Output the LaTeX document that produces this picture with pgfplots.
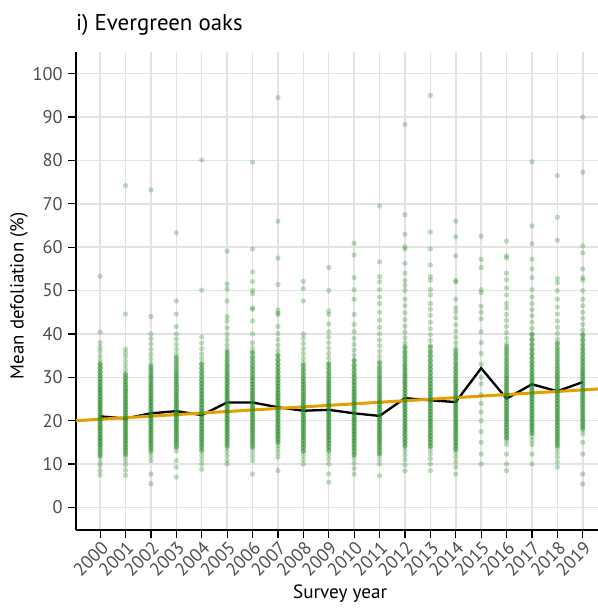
\documentclass[border=0pt]{standalone}
\usepackage{pgfplots}
\pgfplotsset{compat=1.18}
\usepackage{fontspec}
\setmainfont{PT Sans}
\definecolor{ptgreen}{HTML}{228B22}
\definecolor{fitorange}{HTML}{E69F00}
\definecolor{tickgray}{HTML}{4D4D4D}
\definecolor{gridgray}{HTML}{E3E3E3}
\begin{document}
\begin{tikzpicture}
\path[use as bounding box] (-45.6pt,-46.8pt) rectangle (313.2pt,318pt);
\begin{axis}[
    at={(0,0)}, anchor=south west,
    scale only axis,
    width=313.2pt, height=286.8pt,
    xmin=1999.05, xmax=2019.6,
    ymin=-5.2, ymax=105,
    axis x line*=bottom, axis y line*=left,
    axis line style={line width=1pt, -},
    xtick={2000,2001,...,2019},
    ytick={0,10,...,100},
    grid=major,
    major grid style={gridgray, line width=0.9pt},
    tick align=outside,
    major tick length=4.5pt,
    tick style={black, line width=0.7pt},
    /pgf/number format/assume math mode=true,
    /pgf/number format/set thousands separator={},
    tick label style={font=\fontsize{11}{13}\selectfont, text=tickgray},
    x tick label style={rotate=45, anchor=north east, inner sep=1pt},
    xlabel={Survey year},
    ylabel={Mean defoliation (\%)},
    every axis x label/.style={at={(axis description cs:0.506,-0.134)}, anchor=center, font=\fontsize{11.5}{14}\selectfont},
    every axis y label/.style={at={(axis description cs:-0.109,0.49)}, rotate=90, anchor=center, font=\fontsize{11.3}{14}\selectfont},
    title={i) Evergreen oaks},
    title style={at={(axis description cs:0,1)}, anchor=base west, yshift=7pt, xshift=-3.5pt, font=\fontsize{13.7}{16}\selectfont},
    clip=true,
]
\pgfplotsset{
  pts/.style={only marks, mark=*, mark size=1.6pt, mark options={draw=ptgreen, fill=ptgreen, draw opacity=0, fill opacity=0.3}},
  core/.style={only marks, mark=*, mark size=1.6pt, mark options={draw=ptgreen, fill=ptgreen, draw opacity=0, fill opacity=0.45}},
}
% plot means per year: full spread
\addplot[pts] coordinates {(2000,7.5)(2000,8.5)(2000,9.6)(2000,10.4)(2000,11.5)(2000,12.3)(2000,13.2)(2000,14.1)(2000,14.6)(2000,15.2)(2000,15.8)(2000,16.3)(2000,16.9)(2000,17.5)(2000,18.1)(2000,18.6)(2000,19.2)(2000,19.8)(2000,20.4)(2000,20.9)(2000,21.5)(2000,22.1)(2000,22.7)(2000,23.3)(2000,23.8)(2000,24.4)(2000,25.0)(2000,25.6)(2000,26.3)(2000,26.9)(2000,27.5)(2000,28.2)(2000,28.9)(2000,29.6)(2000,30.4)(2000,31.3)(2000,32.2)(2000,33.1)(2000,34.0)(2000,35.0)(2000,36.1)(2000,37.0)(2000,38.0)(2000,40.4)(2000,53.3)};
\addplot[pts] coordinates {(2001,7.4)(2001,8.6)(2001,9.8)(2001,10.7)(2001,11.6)(2001,12.5)(2001,13.3)(2001,14.0)(2001,14.7)(2001,15.3)(2001,15.9)(2001,16.5)(2001,17.1)(2001,17.7)(2001,18.3)(2001,18.9)(2001,19.5)(2001,20.1)(2001,20.7)(2001,21.3)(2001,21.9)(2001,22.5)(2001,23.1)(2001,23.7)(2001,24.3)(2001,24.9)(2001,25.5)(2001,26.2)(2001,26.9)(2001,27.6)(2001,28.3)(2001,29.1)(2001,29.9)(2001,30.8)(2001,31.7)(2001,32.7)(2001,33.7)(2001,34.8)(2001,35.7)(2001,36.5)(2001,44.6)(2001,74.2)};
\addplot[pts] coordinates {(2002,5.5)(2002,7.7)(2002,10.8)(2002,11.8)(2002,12.7)(2002,13.6)(2002,14.4)(2002,15.1)(2002,15.7)(2002,16.3)(2002,16.9)(2002,17.5)(2002,18.1)(2002,18.7)(2002,19.3)(2002,19.9)(2002,20.5)(2002,21.1)(2002,21.7)(2002,22.3)(2002,22.9)(2002,23.5)(2002,24.1)(2002,24.7)(2002,25.3)(2002,25.9)(2002,26.6)(2002,27.3)(2002,28.0)(2002,28.7)(2002,29.5)(2002,30.3)(2002,31.2)(2002,32.1)(2002,33.1)(2002,34.2)(2002,35.3)(2002,36.5)(2002,37.7)(2002,38.9)(2002,40.0)(2002,44.0)(2002,73.2)};
\addplot[pts] coordinates {(2003,7.0)(2003,9.3)(2003,10.8)(2003,13.0)(2003,13.9)(2003,14.6)(2003,15.3)(2003,15.9)(2003,16.5)(2003,17.1)(2003,17.7)(2003,18.3)(2003,18.9)(2003,19.5)(2003,20.1)(2003,20.7)(2003,21.3)(2003,21.9)(2003,22.5)(2003,23.1)(2003,23.7)(2003,24.3)(2003,24.9)(2003,25.5)(2003,26.1)(2003,26.8)(2003,27.5)(2003,28.2)(2003,28.9)(2003,29.7)(2003,30.5)(2003,31.4)(2003,32.3)(2003,33.3)(2003,34.3)(2003,35.4)(2003,36.5)(2003,37.6)(2003,38.8)(2003,40.0)(2003,41.7)(2003,44.6)(2003,47.6)(2003,63.3)};
\addplot[pts] coordinates {(2004,8.8)(2004,10.0)(2004,11.0)(2004,12.0)(2004,12.9)(2004,13.8)(2004,14.6)(2004,15.3)(2004,15.9)(2004,16.5)(2004,17.1)(2004,17.7)(2004,18.3)(2004,18.9)(2004,19.5)(2004,20.1)(2004,20.7)(2004,21.3)(2004,21.9)(2004,22.5)(2004,23.1)(2004,23.7)(2004,24.3)(2004,24.9)(2004,25.6)(2004,26.3)(2004,27.0)(2004,27.8)(2004,28.6)(2004,29.4)(2004,30.3)(2004,31.2)(2004,32.2)(2004,33.2)(2004,34.3)(2004,35.4)(2004,36.6)(2004,37.9)(2004,39.3)(2004,50.1)(2004,80.1)};
\addplot[pts] coordinates {(2005,10.0)(2005,10.8)(2005,11.9)(2005,12.9)(2005,13.8)(2005,14.6)(2005,15.4)(2005,16.1)(2005,16.8)(2005,17.5)(2005,18.1)(2005,18.7)(2005,19.3)(2005,19.9)(2005,20.5)(2005,21.1)(2005,21.7)(2005,22.3)(2005,22.9)(2005,23.5)(2005,24.1)(2005,24.7)(2005,25.3)(2005,25.9)(2005,26.5)(2005,27.1)(2005,27.8)(2005,28.5)(2005,29.2)(2005,29.9)(2005,30.7)(2005,31.5)(2005,32.4)(2005,33.3)(2005,34.3)(2005,35.3)(2005,36.4)(2005,37.5)(2005,38.7)(2005,39.9)(2005,41.4)(2005,43.0)(2005,44.0)(2005,47.6)(2005,50.3)(2005,51.5)(2005,59.1)};
\addplot[pts] coordinates {(2006,7.7)(2006,10.8)(2006,11.8)(2006,12.8)(2006,13.7)(2006,14.5)(2006,15.3)(2006,16.0)(2006,16.7)(2006,17.4)(2006,18.0)(2006,18.6)(2006,19.2)(2006,19.8)(2006,20.4)(2006,21.0)(2006,21.6)(2006,22.2)(2006,22.8)(2006,23.4)(2006,24.0)(2006,24.6)(2006,25.2)(2006,25.8)(2006,26.4)(2006,27.0)(2006,27.7)(2006,28.4)(2006,29.1)(2006,29.9)(2006,30.7)(2006,31.6)(2006,32.5)(2006,33.5)(2006,34.5)(2006,35.6)(2006,36.8)(2006,38.0)(2006,40.0)(2006,43.0)(2006,45.7)(2006,46.0)(2006,49.3)(2006,50.0)(2006,52.1)(2006,54.3)(2006,59.6)(2006,79.6)};
\addplot[pts] coordinates {(2007,8.5)(2007,11.6)(2007,12.6)(2007,13.5)(2007,14.3)(2007,15.0)(2007,15.7)(2007,16.3)(2007,16.9)(2007,17.5)(2007,18.1)(2007,18.7)(2007,19.3)(2007,19.9)(2007,20.5)(2007,21.1)(2007,21.7)(2007,22.3)(2007,22.9)(2007,23.5)(2007,24.1)(2007,24.7)(2007,25.3)(2007,25.9)(2007,26.5)(2007,27.2)(2007,27.9)(2007,28.6)(2007,29.4)(2007,30.2)(2007,31.1)(2007,32.0)(2007,33.0)(2007,34.0)(2007,35.1)(2007,36.2)(2007,37.4)(2007,38.7)(2007,40.1)(2007,41.7)(2007,44.5)(2007,44.8)(2007,45.5)(2007,51.4)(2007,57.5)(2007,66.0)(2007,94.5)};
\addplot[pts] coordinates {(2008,10.0)(2008,11.0)(2008,12.0)(2008,12.9)(2008,13.8)(2008,14.6)(2008,15.3)(2008,16.0)(2008,16.6)(2008,17.2)(2008,17.8)(2008,18.4)(2008,19.0)(2008,19.6)(2008,20.2)(2008,20.8)(2008,21.4)(2008,22.0)(2008,22.6)(2008,23.2)(2008,23.8)(2008,24.4)(2008,25.0)(2008,25.6)(2008,26.2)(2008,26.9)(2008,27.6)(2008,28.3)(2008,29.0)(2008,29.8)(2008,30.6)(2008,31.5)(2008,32.4)(2008,33.4)(2008,34.4)(2008,35.5)(2008,36.6)(2008,37.8)(2008,39.0)(2008,40.0)(2008,47.6)(2008,50.5)(2008,52.1)};
\addplot[pts] coordinates {(2009,5.8)(2009,7.7)(2009,10.0)(2009,11.1)(2009,12.1)(2009,13.0)(2009,13.9)(2009,14.7)(2009,15.4)(2009,16.1)(2009,16.7)(2009,17.3)(2009,17.9)(2009,18.5)(2009,19.1)(2009,19.7)(2009,20.3)(2009,20.9)(2009,21.5)(2009,22.1)(2009,22.7)(2009,23.3)(2009,23.9)(2009,24.5)(2009,25.1)(2009,25.8)(2009,26.5)(2009,27.2)(2009,27.9)(2009,28.7)(2009,29.5)(2009,30.4)(2009,31.3)(2009,32.3)(2009,33.3)(2009,34.4)(2009,35.5)(2009,36.7)(2009,38.0)(2009,39.3)(2009,40.5)(2009,42.3)(2009,44.5)(2009,45.3)(2009,50.0)(2009,55.3)};
\addplot[pts] coordinates {(2010,7.7)(2010,9.0)(2010,10.2)(2010,11.3)(2010,12.3)(2010,13.2)(2010,14.1)(2010,14.9)(2010,15.6)(2010,16.3)(2010,16.9)(2010,17.5)(2010,18.1)(2010,18.7)(2010,19.3)(2010,19.9)(2010,20.5)(2010,21.1)(2010,21.7)(2010,22.3)(2010,22.9)(2010,23.5)(2010,24.1)(2010,24.7)(2010,25.4)(2010,26.1)(2010,26.8)(2010,27.5)(2010,28.3)(2010,29.1)(2010,30.0)(2010,30.9)(2010,31.9)(2010,32.9)(2010,34.0)(2010,35.1)(2010,36.3)(2010,37.6)(2010,39.0)(2010,40.5)(2010,42.2)(2010,44.5)(2010,48.0)(2010,50.2)(2010,53.0)(2010,58.2)(2010,60.9)};
\addplot[pts] coordinates {(2011,7.3)(2011,10.0)(2011,11.0)(2011,12.0)(2011,12.9)(2011,13.7)(2011,14.5)(2011,15.2)(2011,15.9)(2011,16.5)(2011,17.1)(2011,17.7)(2011,18.3)(2011,18.9)(2011,19.5)(2011,20.1)(2011,20.7)(2011,21.3)(2011,21.9)(2011,22.5)(2011,23.1)(2011,23.7)(2011,24.3)(2011,25.0)(2011,25.7)(2011,26.4)(2011,27.2)(2011,28.0)(2011,28.8)(2011,29.7)(2011,30.6)(2011,31.6)(2011,32.6)(2011,33.7)(2011,34.8)(2011,36.0)(2011,37.3)(2011,38.6)(2011,40.0)(2011,41.5)(2011,43.2)(2011,45.0)(2011,47.0)(2011,48.5)(2011,50.2)(2011,52.0)(2011,53.2)(2011,56.6)(2011,69.5)};
\addplot[pts] coordinates {(2012,8.4)(2012,9.8)(2012,11.0)(2012,12.1)(2012,13.1)(2012,14.0)(2012,14.9)(2012,15.7)(2012,16.5)(2012,17.2)(2012,17.9)(2012,18.6)(2012,19.3)(2012,20.0)(2012,20.7)(2012,21.4)(2012,22.1)(2012,22.8)(2012,23.5)(2012,24.2)(2012,24.9)(2012,25.6)(2012,26.3)(2012,27.0)(2012,27.7)(2012,28.4)(2012,29.1)(2012,29.9)(2012,30.7)(2012,31.6)(2012,32.5)(2012,33.5)(2012,34.5)(2012,35.6)(2012,36.7)(2012,37.9)(2012,39.1)(2012,40.4)(2012,41.8)(2012,43.3)(2012,44.9)(2012,46.5)(2012,48.0)(2012,50.0)(2012,51.2)(2012,52.3)(2012,54.0)(2012,56.3)(2012,59.6)(2012,60.1)(2012,63.0)(2012,67.5)(2012,88.3)};
\addplot[pts] coordinates {(2013,8.5)(2013,10.0)(2013,11.2)(2013,12.3)(2013,13.3)(2013,14.2)(2013,15.0)(2013,15.8)(2013,16.5)(2013,17.2)(2013,17.9)(2013,18.6)(2013,19.3)(2013,20.0)(2013,20.7)(2013,21.4)(2013,22.1)(2013,22.8)(2013,23.5)(2013,24.2)(2013,24.9)(2013,25.6)(2013,26.3)(2013,27.0)(2013,27.7)(2013,28.5)(2013,29.3)(2013,30.1)(2013,31.0)(2013,31.9)(2013,32.9)(2013,33.9)(2013,35.0)(2013,36.1)(2013,37.3)(2013,38.5)(2013,39.8)(2013,41.2)(2013,42.7)(2013,44.3)(2013,45.7)(2013,47.0)(2013,49.0)(2013,50.2)(2013,52.4)(2013,53.2)(2013,55.9)(2013,59.6)(2013,63.5)(2013,95.0)};
\addplot[pts] coordinates {(2014,7.7)(2014,9.3)(2014,10.5)(2014,11.6)(2014,12.6)(2014,13.5)(2014,14.4)(2014,15.2)(2014,15.9)(2014,16.6)(2014,17.3)(2014,18.0)(2014,18.7)(2014,19.4)(2014,20.1)(2014,20.8)(2014,21.5)(2014,22.2)(2014,22.9)(2014,23.6)(2014,24.3)(2014,25.0)(2014,25.7)(2014,26.4)(2014,27.1)(2014,27.9)(2014,28.7)(2014,29.5)(2014,30.4)(2014,31.3)(2014,32.3)(2014,33.3)(2014,34.4)(2014,35.5)(2014,36.7)(2014,37.9)(2014,39.2)(2014,40.6)(2014,42.1)(2014,43.7)(2014,45.0)(2014,46.0)(2014,48.0)(2014,52.0)(2014,52.3)(2014,58.0)(2014,62.4)(2014,66.0)};
\addplot[pts] coordinates {(2015,10.0)(2015,12.3)(2015,15.0)(2015,17.5)(2015,20.0)(2015,22.0)(2015,24.0)(2015,26.0)(2015,28.5)(2015,30.0)(2015,33.0)(2015,35.5)(2015,38.0)(2015,40.5)(2015,43.5)(2015,45.0)(2015,46.4)(2015,49.5)(2015,50.2)(2015,55.3)(2015,57.2)(2015,62.5)};
\addplot[pts] coordinates {(2016,8.5)(2016,10.0)(2016,12.3)(2016,14.5)(2016,15.4)(2016,16.2)(2016,17.0)(2016,17.7)(2016,18.4)(2016,19.1)(2016,19.8)(2016,20.5)(2016,21.2)(2016,21.9)(2016,22.6)(2016,23.3)(2016,24.0)(2016,24.7)(2016,25.4)(2016,26.1)(2016,26.8)(2016,27.5)(2016,28.2)(2016,29.0)(2016,29.8)(2016,30.6)(2016,31.5)(2016,32.4)(2016,33.4)(2016,34.4)(2016,35.5)(2016,36.6)(2016,37.8)(2016,39.0)(2016,40.3)(2016,41.7)(2016,43.1)(2016,44.5)(2016,46.0)(2016,47.0)(2016,49.0)(2016,50.6)(2016,52.5)(2016,54.0)(2016,57.5)(2016,58.0)(2016,61.4)};
\addplot[pts] coordinates {(2017,10.0)(2017,12.3)(2017,14.5)(2017,15.4)(2017,16.3)(2017,17.1)(2017,17.9)(2017,18.6)(2017,19.3)(2017,20.0)(2017,20.7)(2017,21.4)(2017,22.1)(2017,22.8)(2017,23.5)(2017,24.2)(2017,24.9)(2017,25.6)(2017,26.3)(2017,27.0)(2017,27.7)(2017,28.4)(2017,29.1)(2017,29.9)(2017,30.7)(2017,31.5)(2017,32.4)(2017,33.3)(2017,34.3)(2017,35.3)(2017,36.4)(2017,37.5)(2017,38.7)(2017,40.0)(2017,41.3)(2017,42.7)(2017,44.2)(2017,45.6)(2017,47.0)(2017,48.5)(2017,50.2)(2017,53.0)(2017,55.0)(2017,57.2)(2017,60.8)(2017,64.9)(2017,79.7)};
\addplot[pts] coordinates {(2018,9.3)(2018,10.5)(2018,11.6)(2018,12.6)(2018,13.6)(2018,14.5)(2018,15.3)(2018,16.1)(2018,16.8)(2018,17.5)(2018,18.2)(2018,18.9)(2018,19.6)(2018,20.3)(2018,21.0)(2018,21.7)(2018,22.4)(2018,23.1)(2018,23.8)(2018,24.5)(2018,25.2)(2018,25.9)(2018,26.6)(2018,27.3)(2018,28.0)(2018,28.8)(2018,29.6)(2018,30.4)(2018,31.3)(2018,32.2)(2018,33.2)(2018,34.2)(2018,35.3)(2018,36.4)(2018,37.6)(2018,38.8)(2018,40.1)(2018,41.5)(2018,43.0)(2018,44.6)(2018,46.2)(2018,48.0)(2018,50.0)(2018,51.8)(2018,52.8)(2018,61.6)(2018,66.9)(2018,76.5)};
\addplot[pts] coordinates {(2019,5.4)(2019,7.7)(2019,12.3)(2019,15.0)(2019,17.0)(2019,17.9)(2019,18.8)(2019,19.6)(2019,20.4)(2019,21.2)(2019,22.0)(2019,22.8)(2019,23.6)(2019,24.4)(2019,25.2)(2019,26.0)(2019,26.8)(2019,27.6)(2019,28.4)(2019,29.2)(2019,30.0)(2019,30.8)(2019,31.6)(2019,32.5)(2019,33.4)(2019,34.3)(2019,35.3)(2019,36.3)(2019,37.4)(2019,38.5)(2019,39.7)(2019,40.9)(2019,42.2)(2019,43.6)(2019,45.0)(2019,46.5)(2019,48.0)(2019,50.0)(2019,52.4)(2019,53.0)(2019,55.0)(2019,58.7)(2019,60.3)(2019,77.3)(2019,90.0)};
% plot means per year: the crowded middle of each column
\addplot[core] coordinates {(2000,12.0)(2000,12.8)(2000,13.6)(2000,14.4)(2000,15.2)(2000,16.0)(2000,16.8)(2000,17.6)(2000,18.4)(2000,19.2)(2000,20.0)(2000,20.8)(2000,21.6)(2000,22.4)(2000,23.2)(2000,24.0)(2000,24.8)(2000,25.6)(2000,26.4)(2000,27.2)(2000,28.0)(2000,28.8)(2000,29.6)(2000,30.4)(2000,31.2)(2000,32.1)(2000,33.0)};
\addplot[core] coordinates {(2001,12.2)(2001,13.0)(2001,13.8)(2001,14.6)(2001,15.4)(2001,16.2)(2001,17.0)(2001,17.8)(2001,18.6)(2001,19.4)(2001,20.2)(2001,21.0)(2001,21.8)(2001,22.6)(2001,23.4)(2001,24.2)(2001,25.0)(2001,25.8)(2001,26.6)(2001,27.4)(2001,28.2)(2001,29.0)(2001,29.8)(2001,30.6)};
\addplot[core] coordinates {(2002,13.1)(2002,13.9)(2002,14.7)(2002,15.5)(2002,16.3)(2002,17.1)(2002,17.9)(2002,18.7)(2002,19.5)(2002,20.3)(2002,21.1)(2002,21.9)(2002,22.7)(2002,23.5)(2002,24.3)(2002,25.1)(2002,25.9)(2002,26.7)(2002,27.5)(2002,28.3)(2002,29.1)(2002,29.9)(2002,30.7)(2002,31.6)(2002,32.5)};
\addplot[core] coordinates {(2003,14.0)(2003,14.8)(2003,15.6)(2003,16.4)(2003,17.2)(2003,18.0)(2003,18.8)(2003,19.6)(2003,20.4)(2003,21.2)(2003,22.0)(2003,22.8)(2003,23.6)(2003,24.4)(2003,25.2)(2003,26.0)(2003,26.8)(2003,27.6)(2003,28.4)(2003,29.2)(2003,30.0)(2003,30.8)(2003,31.7)(2003,32.6)(2003,33.6)(2003,34.6)};
\addplot[core] coordinates {(2004,13.3)(2004,14.1)(2004,14.9)(2004,15.7)(2004,16.5)(2004,17.3)(2004,18.1)(2004,18.9)(2004,19.7)(2004,20.5)(2004,21.3)(2004,22.1)(2004,22.9)(2004,23.7)(2004,24.5)(2004,25.3)(2004,26.1)(2004,26.9)(2004,27.7)(2004,28.5)(2004,29.3)(2004,30.2)(2004,31.1)(2004,32.0)(2004,33.0)};
\addplot[core] coordinates {(2005,14.2)(2005,15.0)(2005,15.8)(2005,16.6)(2005,17.4)(2005,18.2)(2005,19.0)(2005,19.8)(2005,20.6)(2005,21.4)(2005,22.2)(2005,23.0)(2005,23.8)(2005,24.6)(2005,25.4)(2005,26.2)(2005,27.0)(2005,27.8)(2005,28.6)(2005,29.4)(2005,30.2)(2005,31.0)(2005,31.9)(2005,32.8)(2005,33.8)(2005,34.8)(2005,35.8)};
\addplot[core] coordinates {(2006,14.0)(2006,14.8)(2006,15.6)(2006,16.4)(2006,17.2)(2006,18.0)(2006,18.8)(2006,19.6)(2006,20.4)(2006,21.2)(2006,22.0)(2006,22.8)(2006,23.6)(2006,24.4)(2006,25.2)(2006,26.0)(2006,26.8)(2006,27.6)(2006,28.4)(2006,29.2)(2006,30.0)(2006,30.9)(2006,31.8)(2006,32.7)(2006,33.7)(2006,34.7)(2006,35.8)};
\addplot[core] coordinates {(2007,15.1)(2007,15.9)(2007,16.7)(2007,17.5)(2007,18.3)(2007,19.1)(2007,19.9)(2007,20.7)(2007,21.5)(2007,22.3)(2007,23.1)(2007,23.9)(2007,24.7)(2007,25.5)(2007,26.3)(2007,27.1)(2007,27.9)(2007,28.7)(2007,29.5)(2007,30.3)(2007,31.2)(2007,32.1)(2007,33.0)(2007,34.0)(2007,35.0)};
\addplot[core] coordinates {(2008,13.0)(2008,13.8)(2008,14.6)(2008,15.4)(2008,16.2)(2008,17.0)(2008,17.8)(2008,18.6)(2008,19.4)(2008,20.2)(2008,21.0)(2008,21.8)(2008,22.6)(2008,23.4)(2008,24.2)(2008,25.0)(2008,25.8)(2008,26.6)(2008,27.4)(2008,28.2)(2008,29.0)(2008,29.9)(2008,30.8)(2008,31.8)(2008,32.8)};
\addplot[core] coordinates {(2009,13.2)(2009,14.0)(2009,14.8)(2009,15.6)(2009,16.4)(2009,17.2)(2009,18.0)(2009,18.8)(2009,19.6)(2009,20.4)(2009,21.2)(2009,22.0)(2009,22.8)(2009,23.6)(2009,24.4)(2009,25.2)(2009,26.0)(2009,26.8)(2009,27.6)(2009,28.4)(2009,29.2)(2009,30.1)(2009,31.0)(2009,32.0)(2009,33.0)};
\addplot[core] coordinates {(2010,12.1)(2010,12.9)(2010,13.7)(2010,14.5)(2010,15.3)(2010,16.1)(2010,16.9)(2010,17.7)(2010,18.5)(2010,19.3)(2010,20.1)(2010,20.9)(2010,21.7)(2010,22.5)(2010,23.3)(2010,24.1)(2010,24.9)(2010,25.7)(2010,26.5)(2010,27.3)(2010,28.1)(2010,28.9)(2010,29.8)(2010,30.7)(2010,31.7)(2010,32.7)(2010,33.8)};
\addplot[core] coordinates {(2011,12.4)(2011,13.2)(2011,14.0)(2011,14.8)(2011,15.6)(2011,16.4)(2011,17.2)(2011,18.0)(2011,18.8)(2011,19.6)(2011,20.4)(2011,21.2)(2011,22.0)(2011,22.8)(2011,23.6)(2011,24.4)(2011,25.2)(2011,26.0)(2011,26.8)(2011,27.6)(2011,28.4)(2011,29.3)(2011,30.2)(2011,31.2)(2011,32.2)(2011,33.3)};
\addplot[core] coordinates {(2012,14.3)(2012,15.1)(2012,15.9)(2012,16.7)(2012,17.5)(2012,18.3)(2012,19.1)(2012,19.9)(2012,20.7)(2012,21.5)(2012,22.3)(2012,23.1)(2012,23.9)(2012,24.7)(2012,25.5)(2012,26.3)(2012,27.1)(2012,27.9)(2012,28.7)(2012,29.5)(2012,30.3)(2012,31.1)(2012,32.0)(2012,32.9)(2012,33.9)(2012,34.9)(2012,35.9)(2012,37.0)};
\addplot[core] coordinates {(2013,14.1)(2013,14.9)(2013,15.7)(2013,16.5)(2013,17.3)(2013,18.1)(2013,18.9)(2013,19.7)(2013,20.5)(2013,21.3)(2013,22.1)(2013,22.9)(2013,23.7)(2013,24.5)(2013,25.3)(2013,26.1)(2013,26.9)(2013,27.7)(2013,28.5)(2013,29.3)(2013,30.1)(2013,31.0)(2013,31.9)(2013,32.8)(2013,33.8)(2013,34.8)(2013,35.8)(2013,36.9)};
\addplot[core] coordinates {(2014,13.4)(2014,14.2)(2014,15.0)(2014,15.8)(2014,16.6)(2014,17.4)(2014,18.2)(2014,19.0)(2014,19.8)(2014,20.6)(2014,21.4)(2014,22.2)(2014,23.0)(2014,23.8)(2014,24.6)(2014,25.4)(2014,26.2)(2014,27.0)(2014,27.8)(2014,28.6)(2014,29.4)(2014,30.3)(2014,31.2)(2014,32.1)(2014,33.1)(2014,34.1)(2014,35.1)(2014,36.1)};
\addplot[core] coordinates {(2016,16.0)(2016,16.8)(2016,17.6)(2016,18.4)(2016,19.2)(2016,20.0)(2016,20.8)(2016,21.6)(2016,22.4)(2016,23.2)(2016,24.0)(2016,24.8)(2016,25.6)(2016,26.4)(2016,27.2)(2016,28.0)(2016,28.8)(2016,29.6)(2016,30.4)(2016,31.3)(2016,32.2)(2016,33.1)(2016,34.1)(2016,35.1)(2016,36.1)(2016,37.1)};
\addplot[core] coordinates {(2017,17.2)(2017,18.0)(2017,18.8)(2017,19.6)(2017,20.4)(2017,21.2)(2017,22.0)(2017,22.8)(2017,23.6)(2017,24.4)(2017,25.2)(2017,26.0)(2017,26.8)(2017,27.6)(2017,28.4)(2017,29.2)(2017,30.0)(2017,30.8)(2017,31.7)(2017,32.6)(2017,33.5)(2017,34.5)(2017,35.5)(2017,36.5)(2017,37.6)(2017,38.7)(2017,39.8)};
\addplot[core] coordinates {(2018,14.2)(2018,15.0)(2018,15.8)(2018,16.6)(2018,17.4)(2018,18.2)(2018,19.0)(2018,19.8)(2018,20.6)(2018,21.4)(2018,22.2)(2018,23.0)(2018,23.8)(2018,24.6)(2018,25.4)(2018,26.2)(2018,27.0)(2018,27.8)(2018,28.6)(2018,29.4)(2018,30.2)(2018,31.0)(2018,31.9)(2018,32.8)(2018,33.8)(2018,34.8)(2018,35.8)(2018,36.8)(2018,37.9)};
\addplot[core] coordinates {(2019,18.3)(2019,19.1)(2019,19.9)(2019,20.7)(2019,21.5)(2019,22.3)(2019,23.1)(2019,23.9)(2019,24.7)(2019,25.5)(2019,26.3)(2019,27.1)(2019,27.9)(2019,28.7)(2019,29.5)(2019,30.3)(2019,31.1)(2019,31.9)(2019,32.8)(2019,33.7)(2019,34.6)(2019,35.6)(2019,36.6)(2019,37.6)(2019,38.7)(2019,39.8)};
% yearly mean
\addplot[black, line width=1.4pt, no marks] coordinates {(2000,21.0)(2001,20.5)(2002,21.7)(2003,22.2)(2004,21.3)(2005,24.2)(2006,24.2)(2007,23.1)(2008,22.3)(2009,22.5)(2010,21.7)(2011,21.1)(2012,25.2)(2013,24.7)(2014,24.3)(2015,32.1)(2016,25.1)(2017,28.4)(2018,26.8)(2019,28.9)};
% linear trend
\addplot[fitorange, line width=1.8pt, no marks] coordinates {(1999,19.98)(2020,27.45)};
\end{axis}
\end{tikzpicture}
\end{document}
